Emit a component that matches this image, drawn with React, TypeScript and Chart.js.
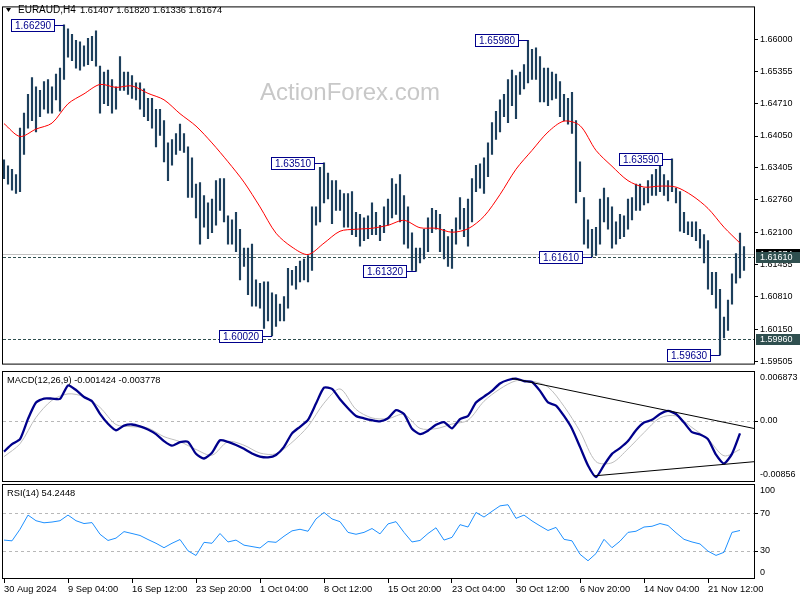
import React, { useEffect, useRef } from 'react';
import { Chart, registerables } from 'chart.js';

Chart.register(...registerables);

const FONT = "'Liberation Sans', Arial, sans-serif";

const SYMBOL = 'EURAUD,H4';
const LAST_OHLC = '1.61407 1.61820 1.61336 1.61674';
const WATERMARK = 'ActionForex.com';
const MACD_TITLE = 'MACD(12,26,9) -0.001424 -0.003778';
const RSI_TITLE = 'RSI(14) 54.2448';

// each bar = two H4 periods
const HIGH = [
  1.6357, 1.6345, 1.6338, 1.6327, 1.6421, 1.6451, 1.6489, 1.6523, 1.6504, 1.6497,
  1.6515, 1.6519, 1.6504, 1.6530, 1.6542, 1.6629, 1.6621, 1.6610, 1.6598, 1.6595,
  1.6587, 1.6602, 1.6606, 1.6617, 1.6546, 1.6534, 1.6538, 1.6519, 1.6504, 1.6565,
  1.6534, 1.6534, 1.6527, 1.6512, 1.6512, 1.6500, 1.6481, 1.6481, 1.6459, 1.6459,
  1.6436, 1.6391, 1.6398, 1.6410, 1.6429, 1.6410, 1.6383, 1.6361, 1.6308, 1.6311,
  1.6285, 1.6270, 1.6278, 1.6315, 1.6319, 1.6319, 1.6244, 1.6236, 1.6251, 1.6217,
  1.6179, 1.6179, 1.6187, 1.6115, 1.6108, 1.6111, 1.6111, 1.6089, 1.6085, 1.6066,
  1.6081, 1.6138, 1.6134, 1.6142, 1.6153, 1.6157, 1.6164, 1.6262, 1.6262, 1.6342,
  1.6351, 1.6330, 1.6315, 1.6315, 1.6296, 1.6289, 1.6289, 1.6293, 1.6251, 1.6247,
  1.6240, 1.6244, 1.6270, 1.6251, 1.6225, 1.6262, 1.6278, 1.6319, 1.6308, 1.6327,
  1.6285, 1.6262, 1.6210, 1.6179, 1.6179, 1.6217, 1.6240, 1.6259, 1.6255, 1.6247,
  1.6217, 1.6202, 1.6217, 1.6240, 1.6281, 1.6259, 1.6278, 1.6319, 1.6346, 1.6349,
  1.6361, 1.6391, 1.6432, 1.6455, 1.6478, 1.6489, 1.6519, 1.6538, 1.6527, 1.6534,
  1.6549, 1.6598, 1.6580, 1.6583, 1.6565, 1.6542, 1.6542, 1.6534, 1.6530, 1.6515,
  1.6489, 1.6481, 1.6493, 1.6436, 1.6353, 1.6281, 1.6236, 1.6217, 1.6221, 1.6278,
  1.6300, 1.6281, 1.6262, 1.6232, 1.6247, 1.6244, 1.6278, 1.6281, 1.6308, 1.6308,
  1.6300, 1.6315, 1.6327, 1.6338, 1.6359, 1.6327, 1.6315, 1.6359, 1.6300, 1.6293,
  1.6251, 1.6232, 1.6232, 1.6232, 1.6217, 1.6206, 1.6194, 1.6130, 1.6130, 1.6096,
  1.6040, 1.6074, 1.6127, 1.6168, 1.6209, 1.6182,
];

const LOW = [
  1.6319, 1.6308, 1.6296, 1.6289, 1.6293, 1.6368, 1.6421, 1.6436, 1.6413, 1.6444,
  1.6459, 1.6451, 1.6451, 1.6478, 1.6455, 1.6519, 1.6564, 1.6557, 1.6542, 1.6538,
  1.6546, 1.6549, 1.6557, 1.6546, 1.6451, 1.6470, 1.6466, 1.6451, 1.6459, 1.6497,
  1.6497, 1.6489, 1.6481, 1.6478, 1.6459, 1.6444, 1.6436, 1.6421, 1.6383, 1.6406,
  1.6353, 1.6315, 1.6346, 1.6368, 1.6376, 1.6372, 1.6281, 1.6281, 1.6240, 1.6187,
  1.6221, 1.6198, 1.6210, 1.6225, 1.6255, 1.6232, 1.6187, 1.6187, 1.6172, 1.6115,
  1.6142, 1.6085, 1.6062, 1.6062, 1.6058, 1.6017, 1.6032, 1.6002, 1.6021, 1.6032,
  1.6032, 1.6058, 1.6104, 1.6096, 1.6111, 1.6115, 1.6111, 1.6134, 1.6225, 1.6232,
  1.6270, 1.6278, 1.6228, 1.6255, 1.6255, 1.6221, 1.6221, 1.6206, 1.6202, 1.6183,
  1.6194, 1.6198, 1.6206, 1.6206, 1.6194, 1.6210, 1.6225, 1.6240, 1.6247, 1.6232,
  1.6187, 1.6179, 1.6134, 1.6132, 1.6149, 1.6157, 1.6172, 1.6210, 1.6217, 1.6172,
  1.6157, 1.6142, 1.6138, 1.6187, 1.6217, 1.6202, 1.6183, 1.6232, 1.6293, 1.6300,
  1.6289, 1.6323, 1.6368, 1.6398, 1.6413, 1.6444, 1.6432, 1.6466, 1.6440, 1.6489,
  1.6500, 1.6512, 1.6519, 1.6519, 1.6474, 1.6474, 1.6466, 1.6478, 1.6481, 1.6444,
  1.6436, 1.6429, 1.6410, 1.6270, 1.6293, 1.6187, 1.6179, 1.6161, 1.6164, 1.6187,
  1.6232, 1.6217, 1.6179, 1.6187, 1.6198, 1.6202, 1.6217, 1.6236, 1.6255, 1.6255,
  1.6266, 1.6270, 1.6285, 1.6285, 1.6293, 1.6285, 1.6274, 1.6293, 1.6270, 1.6213,
  1.6210, 1.6206, 1.6202, 1.6194, 1.6179, 1.6149, 1.6096, 1.6085, 1.6058, 1.5963,
  1.5998, 1.6013, 1.6066, 1.6108, 1.6119, 1.6134,
];

// moving average, one value every 4 bars
const MA_STEP = 4;
const MA = [
  1.6430, 1.6404, 1.6419, 1.6431, 1.6470, 1.6490, 1.6509, 1.6503, 1.6506, 1.6491,
  1.6478, 1.6450, 1.6425, 1.6391, 1.6353, 1.6312, 1.6262, 1.6209, 1.6181, 1.6166,
  1.6189, 1.6213, 1.6217, 1.6219, 1.6225, 1.6235, 1.6220, 1.6219, 1.6211, 1.6218,
  1.6243, 1.6287, 1.6338, 1.6376, 1.6413, 1.6435, 1.6426, 1.6376, 1.6344, 1.6315,
  1.6302, 1.6304, 1.6302, 1.6285, 1.6259, 1.6221, 1.6189,
];

// MACD main line, one value every 2 bars
const MACD_STEP = 2;
const MACD_MAIN = [
  -0.00429, -0.00325, -0.00255, 0.00030, 0.00260, 0.00315, 0.00315, 0.00309, 0.00499, 0.00434,
  0.00336, 0.00277, 0.00100, -0.00038, -0.00130, -0.00065, -0.00049, -0.00076, -0.00119, -0.00184,
  -0.00282, -0.00347, -0.00298, -0.00293, -0.00460, -0.00526, -0.00445, -0.00271, -0.00293, -0.00336,
  -0.00391, -0.00456, -0.00499, -0.00510, -0.00477, -0.00363, -0.00174, -0.00081, 0.00016, 0.00244,
  0.00467, 0.00450, 0.00304, 0.00179, 0.00071, 0.00038, 0.00011, -0.00005, 0.00038, 0.00152,
  0.00098, -0.00108, -0.00184, -0.00136, -0.00054, -0.00016, -0.00103, 0.00027, 0.00071, 0.00260,
  0.00342, 0.00423, 0.00526, 0.00575, 0.00595, 0.00560, 0.00548, 0.00423, 0.00260, 0.00217,
  0.00071, -0.00108, -0.00363, -0.00624, -0.00787, -0.00618, -0.00461, -0.00380, -0.00282, -0.00130,
  -0.00022, 0.00016, 0.00098, 0.00141, 0.00098, -0.00022, -0.00157, -0.00190, -0.00255, -0.00472,
  -0.00597, -0.00461, -0.00174,
];

// MACD signal line, one value every 4 bars
const SIGNAL_STEP = 4;
const MACD_SIGNAL = [
  -0.0050, -0.0032, 0.0005, 0.0029, 0.0038, 0.0034, 0.0019, -0.0005, -0.0008, -0.0010,
  -0.0022, -0.0029, -0.0040, -0.0048, -0.0029, -0.0034, -0.0045, -0.0046, -0.0030, -0.00076,
  0.0025, 0.0045, 0.00163, 0.00043, 0.00033, 0.00092, -0.00103, -0.00108, -0.00043, 0.00011,
  0.00277, 0.0045, 0.00564, 0.00559, 0.00477, 0.00206, -0.00146, -0.0057, -0.00586, -0.00391,
  -0.00163, 0.00043, 0.00071, -0.00092, -0.00255, -0.00488, -0.0040,
];

// MACD trend lines: [bar index, value] pairs
const TREND_UPPER = [[127, 0.00597], [187.75, -0.00108]];
const TREND_LOWER = [[147.5, -0.0077], [187.75, -0.0057]];

// RSI, one value every 2 bars
const RSI_STEP = 2;
const RSI = [
  41.4, 40.6, 52.9, 68, 62, 59.8, 60.6, 62, 68, 62,
  59, 60, 47.6, 41, 43.5, 50.4, 48.4, 46.3, 42, 38,
  33.3, 38, 42, 30, 25, 39, 38, 48.4, 39.4, 41.4,
  36, 34.5, 33, 39.8, 39, 45.5, 51.2, 52.9, 50.8, 63.9,
  70.8, 63.9, 61, 49.6, 47.6, 49.6, 53.7, 48, 58.6, 61,
  49.6, 39.4, 41, 48.4, 54.5, 41.4, 44.3, 57.8, 55.3, 70.8,
  65.9, 72, 77.8, 79, 64.5, 68, 61.8, 56.5, 51.6, 54.9,
  42.2, 40.6, 26.3, 19.4, 27.1, 42.2, 33.3, 40.2, 49.6, 50.8,
  55.3, 56.1, 59, 56.9, 49.2, 42.2, 39.4, 37.3, 29.6, 25.1,
  28.4, 49.6, 51.6,
];

const X_TICK_IDX = [0, 16, 32, 48, 64, 80, 96, 112, 128, 144, 160, 176];
const X_TICK_LABELS = [
  '30 Aug 2024', '9 Sep 04:00', '16 Sep 12:00', '23 Sep 20:00', '1 Oct 04:00', '8 Oct 12:00',
  '15 Oct 20:00', '23 Oct 04:00', '30 Oct 12:00', '6 Nov 20:00', '14 Nov 04:00', '21 Nov 12:00',
];

const PRICE_TICKS = [1.66, 1.65355, 1.6471, 1.6405, 1.63405, 1.6276, 1.621, 1.61455, 1.6081, 1.6015, 1.59505];
const PRICE_MIN = 1.594402;
const PRICE_MAX = 1.666436;

const EXTREMES = [
  { i: 15, price: 1.6629 },
  { i: 80, price: 1.6351 },
  { i: 131, price: 1.6598 },
  { i: 167, price: 1.6359 },
  { i: 103, price: 1.6132 },
  { i: 147, price: 1.6161 },
  { i: 67, price: 1.6002 },
  { i: 179, price: 1.5963 },
];

const BID = 1.61674;
const LEVELS = [1.6161, 1.5996];

const MACD_MIN = -0.00856;
const MACD_MAX = 0.006873;
const RSI_LEVELS = [70, 30];

const X_MIN = -0.25;
const X_MAX = 187.75;

const BAR_COLOR = '#1d3f5c';
const NAVY = '#00008b';
const SLATE = '#2f4f4f';

function hline(ctx: CanvasRenderingContext2D, x0: number, x1: number, y: number) {
  ctx.beginPath();
  ctx.moveTo(x0, y);
  ctx.lineTo(x1, y);
  ctx.stroke();
}

function drawBorder(chart: any) {
  const { ctx, chartArea: ca } = chart;
  ctx.save();
  ctx.strokeStyle = '#000';
  ctx.lineWidth = 1;
  ctx.setLineDash([]);
  ctx.strokeRect(ca.left - 0.5, ca.top - 0.5, ca.right - ca.left, ca.bottom - ca.top);
  ctx.restore();
}

function drawSideLabels(chart: any, items: { text: string; y: number; tick: boolean }[]) {
  const { ctx, chartArea: ca } = chart;
  ctx.save();
  ctx.font = `9px ${FONT}`;
  ctx.fillStyle = '#000';
  ctx.strokeStyle = '#000';
  ctx.lineWidth = 1;
  ctx.textAlign = 'left';
  ctx.textBaseline = 'middle';
  for (const it of items) {
    ctx.fillText(it.text, ca.right + 5, it.y);
    if (it.tick) hline(ctx, ca.right, ca.right + 3, Math.round(it.y) + 0.5);
  }
  ctx.restore();
}

const mainDeco = {
  id: 'mainDeco',
  beforeDatasetsDraw(chart: any) {
    const { ctx, chartArea: ca, scales } = chart;
    const y = scales.y;
    ctx.save();
    ctx.font = `24px ${FONT}`;
    ctx.fillStyle = '#c8c8c8';
    ctx.textAlign = 'left';
    ctx.textBaseline = 'alphabetic';
    ctx.fillText(WATERMARK, 260, 100);

    ctx.lineWidth = 1;
    ctx.strokeStyle = '#c0c0c0';
    hline(ctx, ca.left, ca.right, Math.round(y.getPixelForValue(BID)) + 0.5);

    ctx.strokeStyle = SLATE;
    ctx.setLineDash([3, 2]);
    for (const p of LEVELS) hline(ctx, ca.left, ca.right, Math.round(y.getPixelForValue(p)) + 0.5);
    ctx.restore();
  },
  afterDatasetsDraw(chart: any) {
    const { ctx, scales } = chart;
    const x = scales.x;
    const y = scales.y;
    ctx.save();
    ctx.font = `10px ${FONT}`;
    ctx.lineWidth = 1;
    for (const e of EXTREMES) {
      const bx = Math.round(x.getPixelForValue(e.i));
      const py = Math.round(y.getPixelForValue(e.price));
      const txt = e.price.toFixed(5);
      const w = Math.round(ctx.measureText(txt).width) + 7;
      const h = 13;
      const right = bx - 10;
      const left = right - w;
      const top = py - 6;
      ctx.strokeStyle = NAVY;
      hline(ctx, right, bx, py + 0.5);
      ctx.fillStyle = '#fff';
      ctx.fillRect(left, top, w, h);
      ctx.strokeRect(left + 0.5, top + 0.5, w, h - 1);
      ctx.fillStyle = NAVY;
      ctx.textAlign = 'left';
      ctx.textBaseline = 'middle';
      ctx.fillText(txt, left + 4, top + 7);
    }
    ctx.restore();
  },
  afterDraw(chart: any) {
    const { ctx, chartArea: ca, scales } = chart;
    const y = scales.y;
    drawBorder(chart);
    ctx.save();
    // header
    ctx.fillStyle = '#000';
    ctx.beginPath();
    ctx.moveTo(6, 8);
    ctx.lineTo(11, 8);
    ctx.lineTo(8.5, 12);
    ctx.closePath();
    ctx.fill();
    ctx.textAlign = 'left';
    ctx.textBaseline = 'alphabetic';
    ctx.font = `10px ${FONT}`;
    ctx.fillText(SYMBOL, 18, 13);
    ctx.font = `9.3px ${FONT}`;
    ctx.fillText(LAST_OHLC, 80, 13);

    // right axis price boxes
    const box = (price: number, fill: string, text: string) => {
      const py = Math.round(y.getPixelForValue(price));
      ctx.fillStyle = fill;
      ctx.fillRect(ca.right + 1, py - 5, 44, 11);
      ctx.fillStyle = '#fff';
      ctx.font = `9px ${FONT}`;
      ctx.textBaseline = 'middle';
      ctx.fillText(text, ca.right + 5, py + 0.5);
    };
    box(BID, '#000', BID.toFixed(5));
    for (const p of LEVELS) box(p, SLATE, p.toFixed(5));
    ctx.restore();
  },
};

const macdDeco = {
  id: 'macdDeco',
  beforeDatasetsDraw(chart: any) {
    const { ctx, chartArea: ca, scales } = chart;
    ctx.save();
    ctx.strokeStyle = '#b8b8b8';
    ctx.lineWidth = 1;
    ctx.setLineDash([3, 3]);
    hline(ctx, ca.left, ca.right, Math.round(scales.y.getPixelForValue(0)) + 0.5);
    ctx.restore();
  },
  afterDraw(chart: any) {
    const { ctx, chartArea: ca, scales } = chart;
    drawBorder(chart);
    ctx.save();
    ctx.font = `9.3px ${FONT}`;
    ctx.fillStyle = '#000';
    ctx.textAlign = 'left';
    ctx.textBaseline = 'alphabetic';
    ctx.fillText(MACD_TITLE, 7, ca.top + 11);
    ctx.restore();
    drawSideLabels(chart, [
      { text: MACD_MAX.toString(), y: ca.top + 6, tick: false },
      { text: '0.00', y: scales.y.getPixelForValue(0), tick: true },
      { text: MACD_MIN.toString(), y: ca.bottom - 7, tick: false },
    ]);
  },
};

const rsiDeco = {
  id: 'rsiDeco',
  beforeDatasetsDraw(chart: any) {
    const { ctx, chartArea: ca, scales } = chart;
    ctx.save();
    ctx.strokeStyle = '#b8b8b8';
    ctx.lineWidth = 1;
    ctx.setLineDash([3, 3]);
    for (const l of RSI_LEVELS) hline(ctx, ca.left, ca.right, Math.round(scales.y.getPixelForValue(l)) + 0.5);
    ctx.restore();
  },
  afterDraw(chart: any) {
    const { ctx, chartArea: ca, scales } = chart;
    drawBorder(chart);
    ctx.save();
    ctx.font = `9.3px ${FONT}`;
    ctx.fillStyle = '#000';
    ctx.textAlign = 'left';
    ctx.textBaseline = 'alphabetic';
    ctx.fillText(RSI_TITLE, 7, ca.top + 11);
    ctx.restore();
    drawSideLabels(chart, [
      { text: '100', y: ca.top + 6, tick: false },
      { text: '70', y: scales.y.getPixelForValue(70), tick: true },
      { text: '30', y: scales.y.getPixelForValue(30), tick: true },
      { text: '0', y: ca.bottom - 6, tick: false },
    ]);
  },
};

const hiddenX = { type: 'linear' as const, min: X_MIN, max: X_MAX, display: false, offset: false };
const baseOpts = {
  animation: false as const,
  responsive: false,
  maintainAspectRatio: false,
  events: [] as any[],
  plugins: { legend: { display: false }, tooltip: { enabled: false } },
};

function makeMain(canvas: HTMLCanvasElement) {
  return new Chart(canvas, {
    type: 'bar',
    data: {
      datasets: [
        {
          type: 'line',
          data: MA.map((v, k) => ({ x: k * MA_STEP, y: v })),
          borderColor: '#ff0000',
          borderWidth: 1,
          pointRadius: 0,
          tension: 0.3,
          order: 0,
        } as any,
        {
          type: 'bar',
          data: HIGH.map((h, i) => ({ x: i, y: [LOW[i], h] })),
          backgroundColor: BAR_COLOR,
          barThickness: 1.5,
          borderWidth: 0,
          order: 1,
        } as any,
      ],
    },
    options: {
      ...baseOpts,
      layout: { padding: { left: 3, top: 3, right: 0, bottom: 3 }, autoPadding: false },
      scales: {
        x: hiddenX,
        y: {
          position: 'right',
          min: PRICE_MIN,
          max: PRICE_MAX,
          afterBuildTicks: (s: any) => {
            s.ticks = PRICE_TICKS.map((v) => ({ value: v }));
          },
          afterFit: (s: any) => {
            s.width = 45;
          },
          grid: { drawOnChartArea: false, drawTicks: true, tickLength: 3, color: '#000' },
          border: { display: false },
          ticks: {
            autoSkip: false,
            padding: 2,
            color: '#000',
            font: { family: FONT, size: 9 },
            callback: (v: any) => Number(v).toFixed(5),
          },
        },
      },
    } as any,
    plugins: [mainDeco],
  });
}

function makeMacd(canvas: HTMLCanvasElement) {
  return new Chart(canvas, {
    type: 'line',
    data: {
      datasets: [
        {
          data: TREND_UPPER.map(([x, y]) => ({ x, y })),
          borderColor: '#000',
          borderWidth: 1,
          pointRadius: 0,
          order: 0,
        },
        {
          data: TREND_LOWER.map(([x, y]) => ({ x, y })),
          borderColor: '#000',
          borderWidth: 1,
          pointRadius: 0,
          order: 0,
        },
        {
          data: MACD_MAIN.map((v, k) => ({ x: k * MACD_STEP, y: v })),
          borderColor: '#00008b',
          borderWidth: 2.3,
          pointRadius: 0,
          tension: 0.2,
          order: 1,
        },
        {
          data: MACD_SIGNAL.map((v, k) => ({ x: k * SIGNAL_STEP, y: v })),
          borderColor: '#bdbdbd',
          borderWidth: 1,
          pointRadius: 0,
          tension: 0.3,
          order: 2,
        },
      ],
    } as any,
    options: {
      ...baseOpts,
      layout: { padding: { left: 3, top: 2, right: 45, bottom: 2 }, autoPadding: false },
      scales: {
        x: hiddenX,
        y: { display: false, min: MACD_MIN, max: MACD_MAX },
      },
    } as any,
    plugins: [macdDeco],
  });
}

function makeRsi(canvas: HTMLCanvasElement) {
  return new Chart(canvas, {
    type: 'line',
    data: {
      datasets: [
        {
          data: RSI.map((v, k) => ({ x: k * RSI_STEP, y: v })),
          borderColor: '#1e90ff',
          borderWidth: 1,
          pointRadius: 0,
          tension: 0,
        },
      ],
    } as any,
    options: {
      ...baseOpts,
      layout: { padding: { left: 3, top: 2, right: 45, bottom: 0 }, autoPadding: false },
      scales: {
        x: {
          type: 'linear',
          min: X_MIN,
          max: X_MAX,
          offset: false,
          afterBuildTicks: (s: any) => {
            s.ticks = X_TICK_IDX.map((v) => ({ value: v }));
          },
          afterFit: (s: any) => {
            s.height = 21;
          },
          grid: { drawOnChartArea: false, drawTicks: true, tickLength: 4, color: '#000' },
          border: { display: false },
          ticks: {
            autoSkip: false,
            maxRotation: 0,
            minRotation: 0,
            align: 'start',
            padding: 1,
            color: '#000',
            font: { family: FONT, size: 9.3 },
            callback: (v: any) => {
              const k = X_TICK_IDX.indexOf(Number(v));
              return k >= 0 ? X_TICK_LABELS[k] : '';
            },
          },
        },
        y: { display: false, min: 0, max: 100 },
      },
    } as any,
    plugins: [rsiDeco],
  });
}

export default function App() {
  const r1 = useRef<HTMLCanvasElement>(null);
  const r2 = useRef<HTMLCanvasElement>(null);
  const r3 = useRef<HTMLCanvasElement>(null);

  useEffect(() => {
    const charts = [makeMain(r1.current!), makeMacd(r2.current!), makeRsi(r3.current!)];
    return () => charts.forEach((c) => c.destroy());
  }, []);

  return (
    <div style={{ position: 'absolute', left: 0, top: 0, width: 800, height: 600, background: '#fff' }}>
      <canvas ref={r1} width={800} height={372} style={{ position: 'absolute', left: 0, top: 0 }} />
      <canvas ref={r2} width={800} height={114} style={{ position: 'absolute', left: 0, top: 370 }} />
      <canvas ref={r3} width={800} height={117} style={{ position: 'absolute', left: 0, top: 483 }} />
    </div>
  );
}
